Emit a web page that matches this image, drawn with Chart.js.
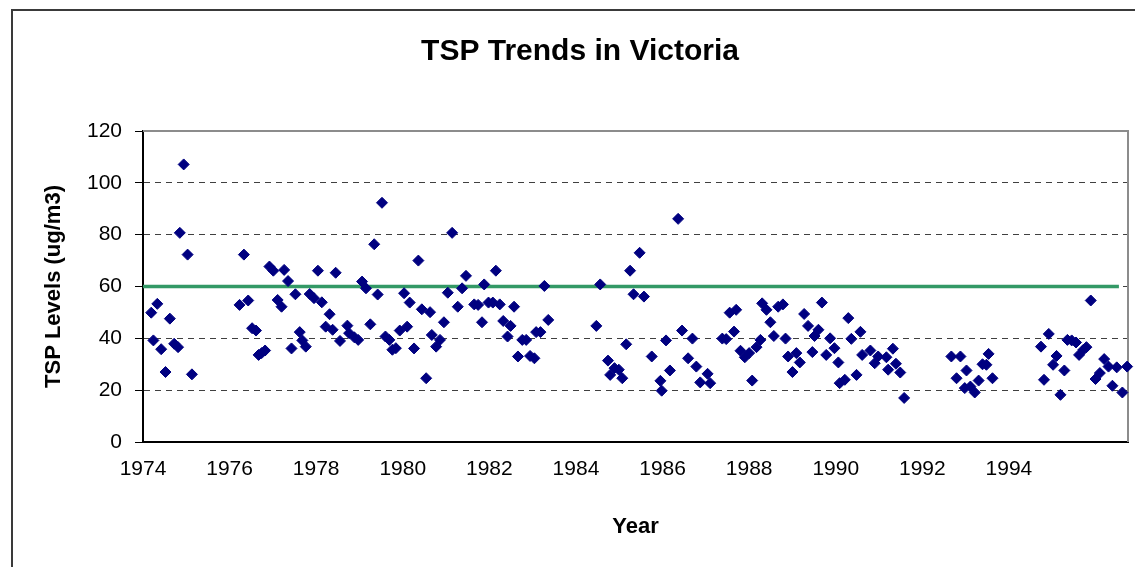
<!DOCTYPE html>
<html>
<head>
<meta charset="utf-8">
<title>TSP Trends in Victoria</title>
<script src="https://cdn.jsdelivr.net/npm/chart.js@4.4.1/dist/chart.umd.min.js"></script>
<style>
  html, body { margin: 0; padding: 0; background: #fff; overflow: hidden; }
  #wrap { position: relative; width: 1135px; height: 567px; }
  #frame { position: absolute; left: 11px; top: 9px; width: 1200px; height: 620px; border: 2px solid #3a3a3a; box-sizing: border-box; }
  #chart { position: absolute; left: 0; top: 0; }
</style>
</head>
<body>
<div id="wrap">
  <div id="frame"></div>
  <canvas id="chart" width="1135" height="567"></canvas>
</div>
<script>
// sample dates (decimal year) and TSP readings
const years = [
  1974.19, 1974.24, 1974.33, 1974.42, 1974.52, 1974.62, 1974.72, 1974.81, 1974.85, 1974.94,
  1975.03, 1975.13,
  1976.23, 1976.33, 1976.43, 1976.52, 1976.61, 1976.67, 1976.74, 1976.82, 1976.92,
  1977.01, 1977.11, 1977.20, 1977.26, 1977.35, 1977.43, 1977.52, 1977.62, 1977.68, 1977.76, 1977.85, 1977.95,
  1978.04, 1978.13, 1978.22, 1978.31, 1978.38, 1978.45, 1978.55, 1978.72, 1978.76, 1978.88, 1978.97,
  1979.06, 1979.15, 1979.25, 1979.34, 1979.42, 1979.52, 1979.60, 1979.69, 1979.76, 1979.84, 1979.93,
  1980.03, 1980.10, 1980.16, 1980.26, 1980.36, 1980.44, 1980.54, 1980.63, 1980.67, 1980.77, 1980.86, 1980.95,
  1981.04, 1981.14, 1981.27, 1981.37, 1981.46, 1981.65, 1981.74, 1981.83, 1981.88, 1981.98,
  1982.08, 1982.15, 1982.24, 1982.32, 1982.42, 1982.49, 1982.57, 1982.66, 1982.76, 1982.85, 1982.94,
  1983.04, 1983.08, 1983.18, 1983.27, 1983.36,
  1984.47, 1984.56, 1984.74, 1984.79, 1984.89, 1984.99,
  1985.07, 1985.16, 1985.25, 1985.33, 1985.47, 1985.57, 1985.75, 1985.95, 1985.98,
  1986.08, 1986.17, 1986.36, 1986.45, 1986.59, 1986.69, 1986.78, 1986.87,
  1987.04, 1987.10, 1987.38, 1987.47, 1987.55, 1987.65, 1987.70, 1987.80, 1987.90,
  1988.00, 1988.07, 1988.17, 1988.26, 1988.30, 1988.40, 1988.49, 1988.57, 1988.67, 1988.78, 1988.84, 1988.90,
  1989.00, 1989.09, 1989.17, 1989.27, 1989.36, 1989.46, 1989.51, 1989.60, 1989.68, 1989.78, 1989.87, 1989.97,
  1990.06, 1990.09, 1990.21, 1990.29, 1990.36, 1990.48, 1990.57, 1990.61, 1990.80, 1990.90, 1990.98,
  1991.17, 1991.21, 1991.32, 1991.39, 1991.49, 1991.58,
  1992.67, 1992.79, 1992.88, 1992.98, 1993.02, 1993.11, 1993.21, 1993.30, 1993.39, 1993.48, 1993.53, 1993.62,
  1994.74, 1994.81, 1994.92, 1995.02, 1995.10, 1995.19, 1995.28, 1995.35, 1995.45, 1995.55, 1995.62,
  1995.72, 1995.79, 1995.89, 1996.00, 1996.10, 1996.20, 1996.30, 1996.39, 1996.49, 1996.62, 1996.73
];
const tspLevels = [
  49.9, 39.2, 53.3, 35.8, 27.0, 47.6, 37.9, 36.6, 80.7, 107.1,
  72.3, 26.1,
  52.9, 72.3, 54.6, 43.9, 43.0, 33.6, 34.3, 35.3, 67.7,
  66.1, 54.8, 52.2, 66.4, 62.1, 36.1, 57.0, 42.4, 39.2, 36.8, 57.1, 55.5,
  66.1, 53.9, 44.5, 49.3, 43.3, 65.3, 39.0, 44.9, 42.0, 40.4, 39.4,
  61.9, 59.3, 45.4, 76.3, 56.9, 92.3, 40.7, 39.4, 35.6, 36.2, 43.0,
  57.4, 44.5, 53.8, 36.1, 70.0, 51.2, 24.6, 50.1, 41.3, 36.8, 39.4, 46.2,
  57.6, 80.7, 52.2, 59.3, 64.1, 53.1, 52.9, 46.2, 60.8, 53.8,
  53.8, 66.1, 53.1, 46.7, 40.7, 44.8, 52.2, 33.0, 39.4, 39.4, 33.2,
  32.3, 42.4, 42.4, 60.2, 47.1,
  44.8, 60.8, 31.4, 25.9, 28.5, 27.9,
  24.6, 37.7, 66.1, 57.0, 73.0, 56.1, 33.0, 23.6, 19.8,
  39.2, 27.6, 86.1, 43.0, 32.3, 39.9, 29.1, 23.0,
  26.3, 22.7, 39.9, 39.7, 49.9, 42.6, 51.0, 35.2, 32.7,
  34.3, 23.7, 36.6, 39.4, 53.5, 51.0, 46.2, 40.9, 52.2, 53.1, 39.9, 33.0,
  27.0, 34.3, 30.7, 49.4, 44.8, 34.7, 40.9, 43.3, 53.8, 33.6, 40.0, 36.2,
  30.7, 22.7, 24.0, 47.8, 39.8, 25.9, 42.5, 33.6, 35.3, 30.4, 33.0,
  32.7, 27.9, 36.0, 30.2, 26.8, 17.0,
  33.0, 24.6, 33.0, 20.8, 27.6, 21.4, 19.1, 23.7, 30.0, 29.8, 34.0, 24.6,
  36.8, 24.0, 41.7, 29.8, 33.2, 18.2, 27.6, 39.4, 39.2, 38.4, 33.6,
  35.6, 36.6, 54.6, 24.3, 26.6, 32.0, 29.1, 21.7, 28.8, 19.1, 29.1
];

// the 60 ug/m3 goal line
const goalLevel = 60;
const goalYears = [1974, 1996.54];

const yearTicks = [1974, 1976, 1978, 1980, 1982, 1984, 1986, 1988, 1990, 1992, 1994];
const levelTicks = [0, 20, 40, 60, 80, 100, 120];

const FONT = "'Liberation Sans', Arial, sans-serif";

// gray frame on the top and right of the plot area
const plotFrame = {
  id: 'plotFrame',
  beforeDatasetsDraw(chart) {
    const { ctx, chartArea: a } = chart;
    ctx.save();
    ctx.strokeStyle = '#8c8c8c';
    ctx.lineWidth = 2;
    ctx.beginPath();
    ctx.moveTo(a.left, a.top);
    ctx.lineTo(a.right, a.top);
    ctx.lineTo(a.right, a.bottom);
    ctx.stroke();
    ctx.restore();
  }
};

new Chart(document.getElementById('chart'), {
  type: 'scatter',
  data: {
    datasets: [
      {
        label: 'TSP',
        data: years.map((y, i) => ({ x: y, y: tspLevels[i] })),
        pointStyle: 'rectRot',
        pointRadius: 5.5,
        pointBackgroundColor: '#000080',
        pointBorderColor: '#000080',
        pointBorderWidth: 1,
        showLine: false,
        clip: false
      },
      {
        label: 'Goal',
        type: 'line',
        data: goalYears.map(y => ({ x: y, y: goalLevel })),
        borderColor: '#339966',
        borderWidth: 3.5,
        pointRadius: 0,
        fill: false
      }
    ]
  },
  options: {
    responsive: false,
    animation: false,
    layout: { padding: { left: 32, right: 7, top: 0, bottom: 0 } },
    plugins: {
      legend: { display: false },
      tooltip: { enabled: false },
      title: {
        display: true,
        text: 'TSP Trends in Victoria',
        color: '#000',
        font: { family: FONT, size: 30, weight: 'bold' },
        padding: { top: 34, bottom: 61 }
      }
    },
    scales: {
      x: {
        type: 'linear',
        min: 1974,
        max: 1996.75,
        afterBuildTicks: s => { s.ticks = yearTicks.map(v => ({ value: v })); },
        afterFit: s => { s.height = 125; },
        grid: { display: false, drawTicks: false },
        border: { display: true, color: '#000', width: 2 },
        ticks: {
          color: '#000',
          font: { family: FONT, size: 21 },
          padding: 15,
          maxRotation: 0,
          callback: v => String(v)
        },
        title: {
          display: true,
          text: 'Year',
          color: '#000',
          font: { family: FONT, size: 22, weight: 'bold' },
          padding: { top: 0, bottom: 27 }
        }
      },
      y: {
        min: 0,
        max: 120,
        afterBuildTicks: s => { s.ticks = levelTicks.map(v => ({ value: v })); },
        afterFit: s => { s.width = 111; },
        grid: {
          color: c => (c.tick && (c.tick.value === 0 || c.tick.value === 120)) ? 'rgba(0,0,0,0)' : '#404040',
          lineWidth: 1,
          drawTicks: true,
          tickLength: 8,
          tickColor: '#000',
          tickWidth: 1
        },
        border: { display: true, color: '#000', width: 2, dash: [6, 5] },
        ticks: {
          color: '#000',
          font: { family: FONT, size: 21 },
          padding: 13
        },
        title: {
          display: true,
          text: 'TSP Levels (ug/m3)',
          color: '#000',
          font: { family: FONT, size: 22, weight: 'bold' },
          padding: { top: 9, bottom: 0 }
        }
      }
    }
  },
  plugins: [plotFrame]
});
</script>
</body>
</html>
